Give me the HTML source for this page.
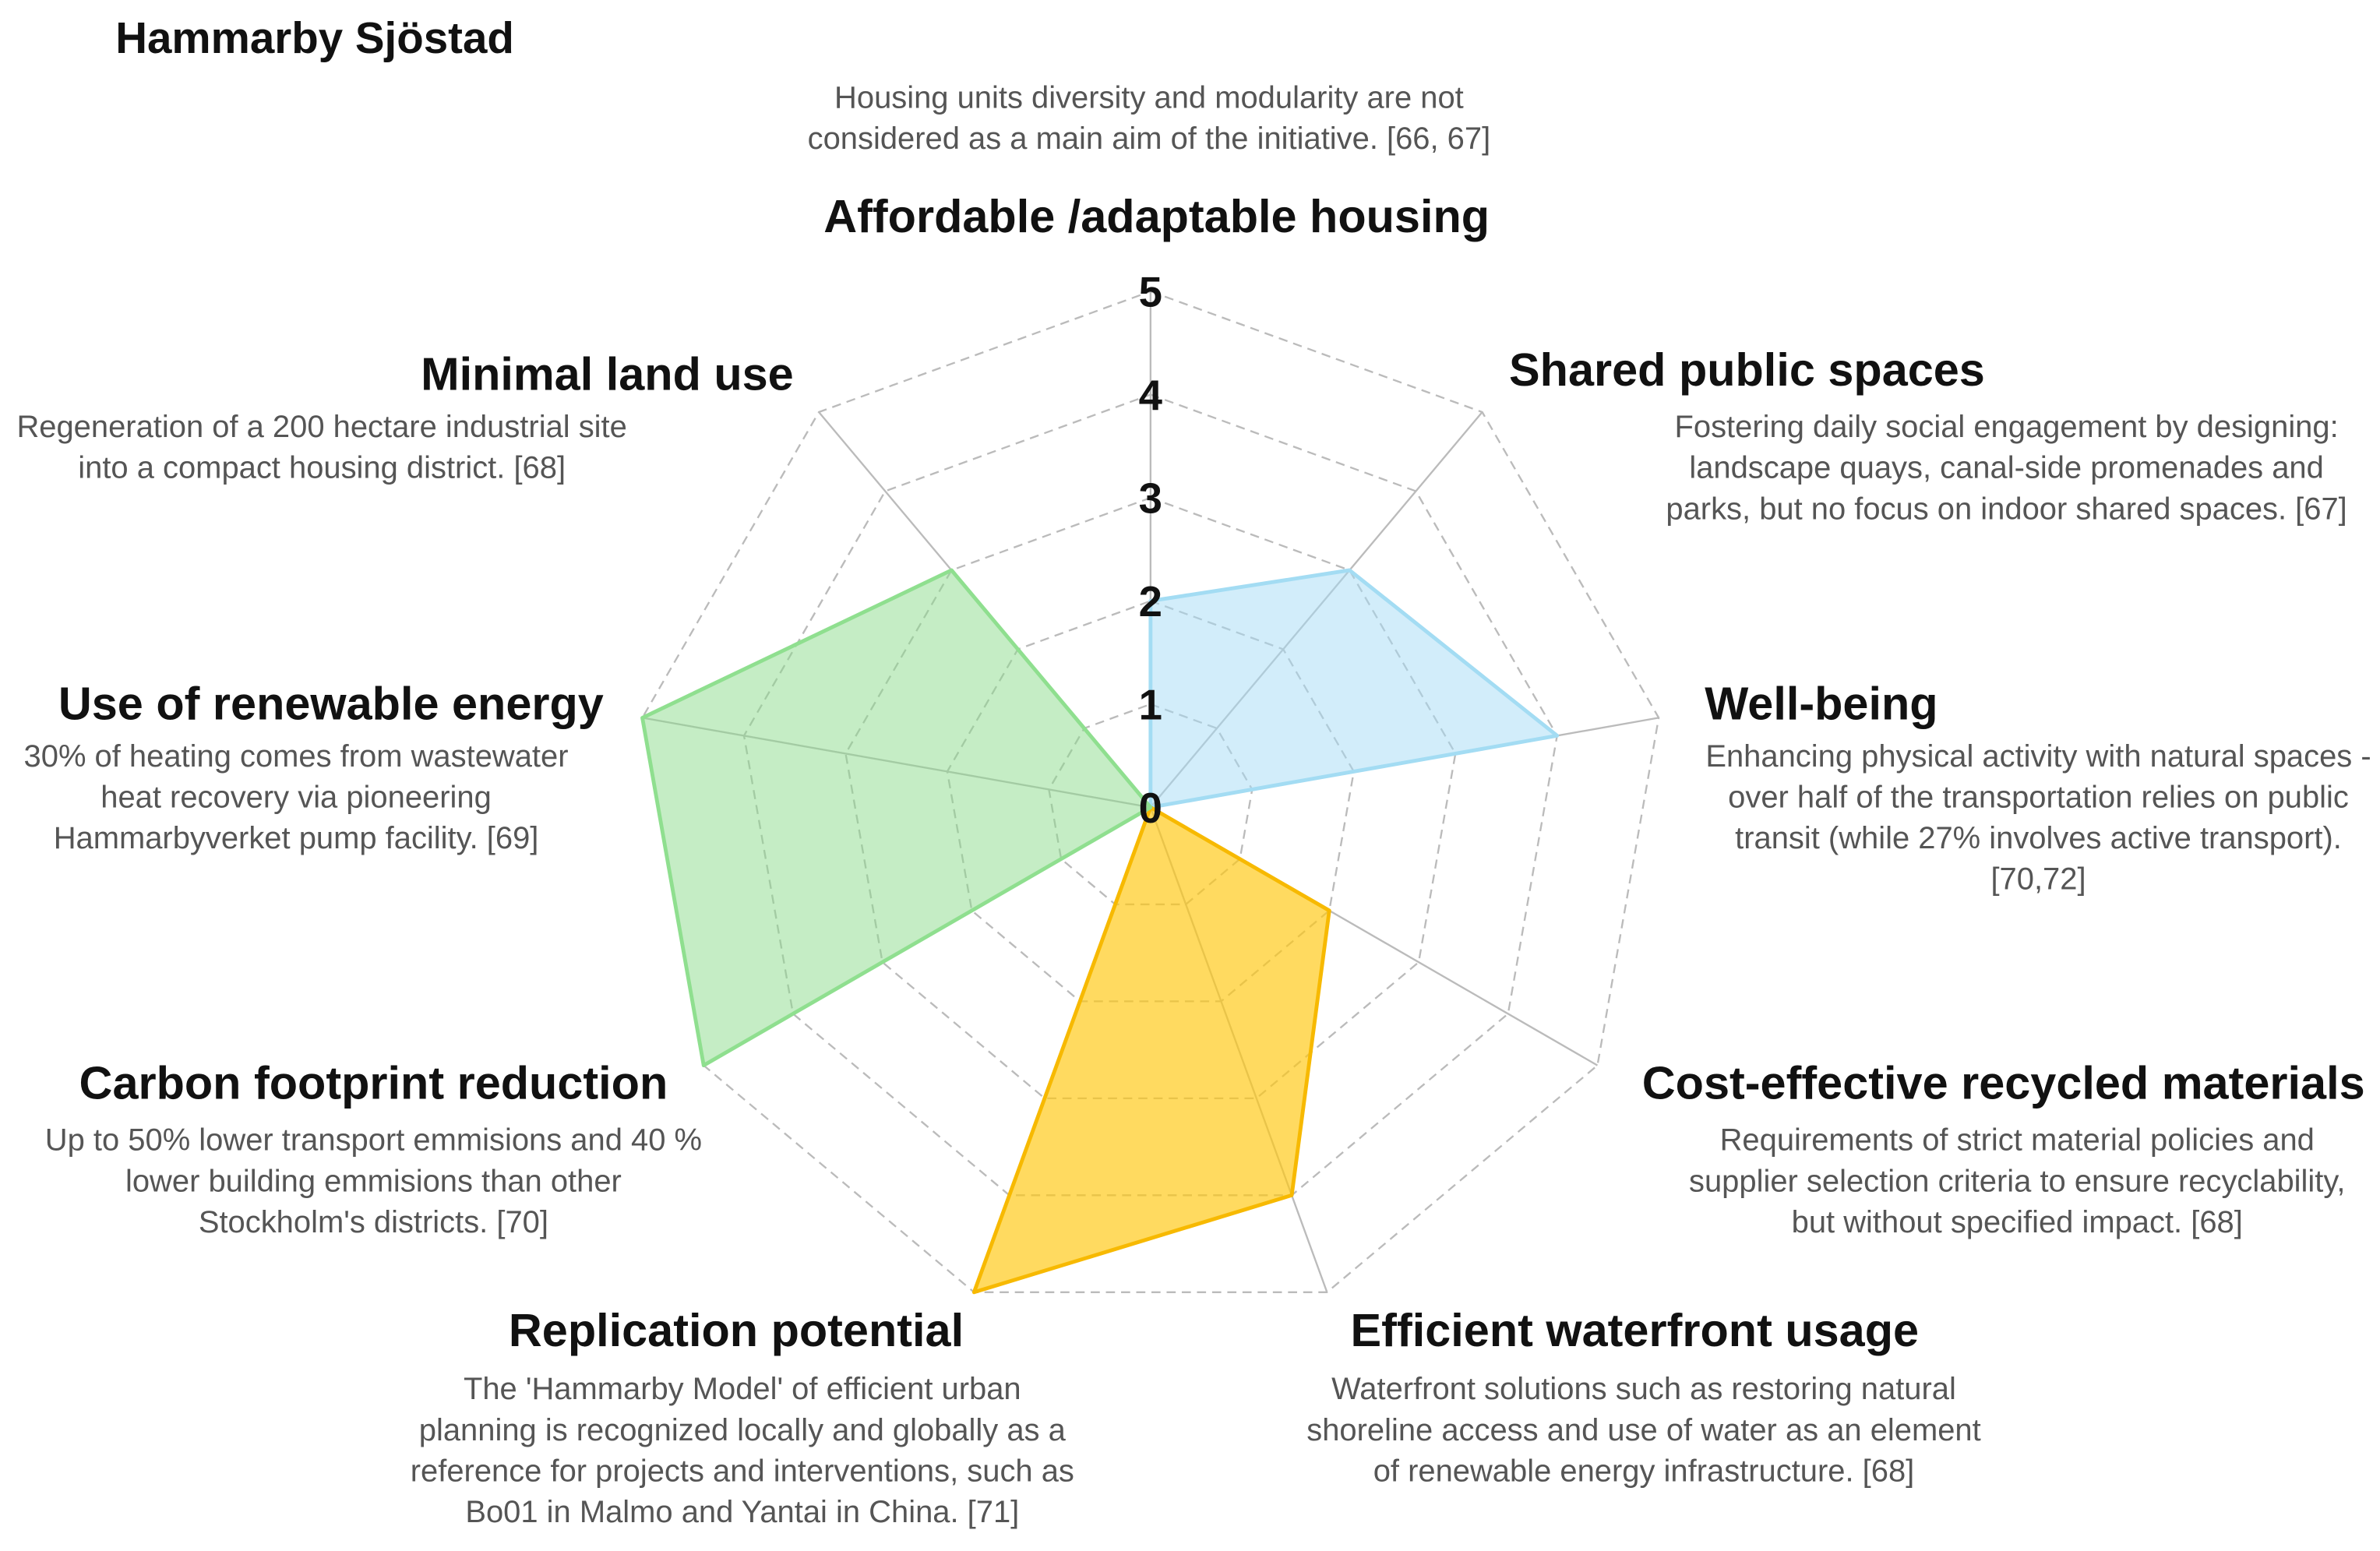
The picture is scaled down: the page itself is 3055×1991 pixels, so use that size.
<!DOCTYPE html>
<html><head><meta charset="utf-8"><style>
html,body{margin:0;padding:0;background:#fff}
svg{display:block}
.t{font-family:"Liberation Sans",sans-serif;font-weight:bold;fill:#111;font-size:30.5px;text-anchor:middle}
.d{font-family:"Liberation Sans",sans-serif;fill:#555;font-size:20.5px;text-anchor:middle}
.n{font-family:"Liberation Sans",sans-serif;font-weight:bold;fill:#111;font-size:28px;text-anchor:middle}
</style></head><body>
<svg id="chart" width="3055" height="1991" viewBox="0 0 1568 1022" xmlns="http://www.w3.org/2000/svg">
<text x="76" y="35" style="font-family:'Liberation Sans',sans-serif;font-weight:bold;font-size:29px;fill:#111">Hammarby Sjöstad</text>
<g id="grid"></g>
<g id="series"></g>
<g id="ticks"></g>

<g>
<text class="d" x="757" y="71">Housing units diversity and modularity are not</text>
<text class="d" x="757" y="98">considered as a main aim of the initiative. [66, 67]</text>
<text class="t" x="762" y="153">Affordable /adaptable housing</text></g>
<g>
<text class="t" x="400" y="257">Minimal land use</text>
<text class="d" x="212" y="288">Regeneration of a 200 hectare industrial site</text>
<text class="d" x="212" y="315">into a compact housing district. [68]</text></g>
<g>
<text class="t" x="1151" y="254">Shared public spaces</text>
<text class="d" x="1322" y="288">Fostering daily social engagement by designing:</text>
<text class="d" x="1322" y="315">landscape quays, canal-side promenades and</text>
<text class="d" x="1322" y="342">parks, but no focus on indoor shared spaces. [67]</text></g>
<g>
<text class="t" x="218" y="474">Use of renewable energy</text>
<text class="d" x="195" y="505">30% of heating comes from wastewater</text>
<text class="d" x="195" y="532">heat recovery via pioneering</text>
<text class="d" x="195" y="559">Hammarbyverket pump facility. [69]</text></g>
<g>
<text class="t" x="1200" y="474">Well-being</text>
<text class="d" x="1343" y="505">Enhancing physical activity with natural spaces -</text>
<text class="d" x="1343" y="532">over half of the transportation relies on public</text>
<text class="d" x="1343" y="559">transit (while 27% involves active transport).</text>
<text class="d" x="1343" y="586">[70,72]</text></g>
<g>
<text class="t" x="246" y="724">Carbon footprint reduction</text>
<text class="d" x="246" y="758">Up to 50% lower transport emmisions and 40 %</text>
<text class="d" x="246" y="785">lower building emmisions than other</text>
<text class="d" x="246" y="812">Stockholm's districts. [70]</text></g>
<g>
<text class="t" x="1320" y="724">Cost-effective recycled materials</text>
<text class="d" x="1329" y="758">Requirements of strict material policies and</text>
<text class="d" x="1329" y="785">supplier selection criteria to ensure recyclability,</text>
<text class="d" x="1329" y="812">but without specified impact. [68]</text></g>
<g>
<text class="t" x="485" y="887">Replication potential</text>
<text class="d" x="489" y="922">The 'Hammarby Model' of efficient urban</text>
<text class="d" x="489" y="949">planning is recognized locally and globally as a</text>
<text class="d" x="489" y="976">reference for projects and interventions, such as</text>
<text class="d" x="489" y="1003">Bo01 in Malmo and Yantai in China. [71]</text></g>
<g>
<text class="t" x="1077" y="887">Efficient waterfront usage</text>
<text class="d" x="1083" y="922">Waterfront solutions such as restoring natural</text>
<text class="d" x="1083" y="949">shoreline access and use of water as an element</text>
<text class="d" x="1083" y="976">of renewable energy infrastructure. [68]</text></g>
</svg>
<script>
const categories = ["Affordable /adaptable housing","Shared public spaces","Well-being","Cost-effective recycled materials","Efficient waterfront usage","Replication potential","Carbon footprint reduction","Use of renewable energy","Minimal land use"];
const values = [2,3,4,2,4,5,5,5,3];
const groupBlue = [0,1,2];
const groupYellow = [3,4,5];
const groupGreen = [6,7,8];
const tickLabels = ["0","1","2","3","4","5"];
const maxVal = 5;

const NS="http://www.w3.org/2000/svg";
const cx=758, cy=532, R=340;
function pt(i,v){const a=i*2*Math.PI/categories.length;const r=v/maxVal*R;return [cx+r*Math.sin(a), cy-r*Math.cos(a)];}
const grid=document.getElementById('grid');
for(let l=1;l<=maxVal;l++){
  const p=document.createElementNS(NS,'polygon');
  p.setAttribute('points',categories.map((c,i)=>pt(i,l).join(',')).join(' '));
  p.setAttribute('fill','none');p.setAttribute('stroke','#bbb');p.setAttribute('stroke-width','1.2');p.setAttribute('stroke-dasharray','6,4');
  
  
  grid.appendChild(p);
}
categories.forEach((c,i)=>{
  const e=pt(i,maxVal);const ln=document.createElementNS(NS,'line');
  ln.setAttribute('x1',cx);ln.setAttribute('y1',cy);ln.setAttribute('x2',e[0]);ln.setAttribute('y2',e[1]);
  ln.setAttribute('stroke','#bbb');ln.setAttribute('stroke-width','1.2');
  
  
  grid.appendChild(ln);
});
const ser=document.getElementById('series');
function area(idx,fill,stroke,name){
  const pts=[[cx,cy]].concat(idx.map(i=>pt(i,values[i])));
  const p=document.createElementNS(NS,'polygon');
  p.setAttribute('points',pts.map(q=>q.join(',')).join(' '));
  p.setAttribute('fill',fill);p.setAttribute('stroke',stroke);p.setAttribute('stroke-width','2.5');p.setAttribute('stroke-linejoin','round');
  
  
  ser.appendChild(p);
}
area(groupBlue,'rgba(165,220,245,0.5)','#a3dcf3','series-social-area');
area(groupYellow,'rgba(255,200,20,0.68)','#f7b900','series-economic-area');
area(groupGreen,'rgba(140,220,140,0.5)','#8fdf8f','series-environmental-area');
const tk=document.getElementById('ticks');
tickLabels.forEach((t,i)=>{
  const q=pt(0,i);const tx=document.createElementNS(NS,'text');
  tx.setAttribute('class','n');tx.setAttribute('x',q[0]);tx.setAttribute('y',q[1]+10);tx.textContent=t;
  
  
  tk.appendChild(tx);
});
</script>
</body></html>
